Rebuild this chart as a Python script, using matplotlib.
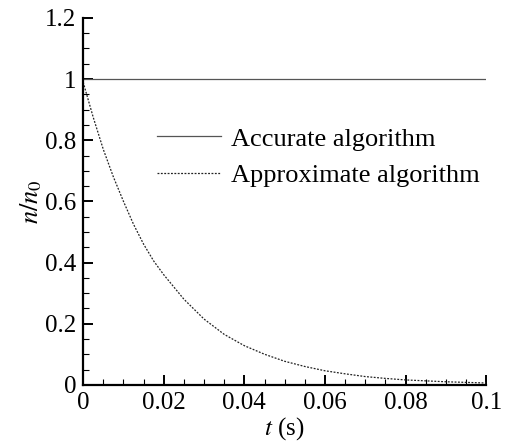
import numpy as np
import matplotlib.pyplot as plt
from matplotlib.ticker import MultipleLocator, FuncFormatter

# values
t = [0.0, 0.0025, 0.005, 0.0075, 0.01, 0.0125, 0.015, 0.0175, 0.02, 0.025,
     0.03, 0.035, 0.04, 0.045, 0.05, 0.055, 0.06, 0.065, 0.07, 0.075, 0.08,
     0.085, 0.09, 0.095, 0.1]
approx = [0.99, 0.875, 0.77, 0.68, 0.60, 0.525, 0.46, 0.405, 0.36, 0.28,
          0.215, 0.165, 0.128, 0.10, 0.077, 0.06, 0.046, 0.036, 0.027, 0.021,
          0.016, 0.013, 0.010, 0.008, 0.006]
accurate = [1.0] * len(t)

plt.rcParams['font.family'] = ['Liberation Serif', 'DejaVu Serif']
plt.rcParams['mathtext.fontset'] = 'stix'

fig = plt.figure(figsize=(5.07, 4.48), dpi=100)
ax = fig.add_axes([0.164, 0.141, 0.795, 0.819])

ax.plot(t, accurate, color='#555555', lw=0.9, label='Accurate algorithm')
ax.plot(t, approx, color='#222222', lw=0.9, linestyle=(0, (1.5, 1.2)),
        label='Approximate algorithm')

ax.set_xlim(0, 0.1)
ax.set_ylim(0, 1.2)
ax.xaxis.set_major_locator(MultipleLocator(0.02))
ax.xaxis.set_minor_locator(MultipleLocator(0.005))
ax.yaxis.set_major_locator(MultipleLocator(0.2))
ax.yaxis.set_minor_locator(MultipleLocator(0.05))

fmt = FuncFormatter(lambda v, p: ('%g' % round(v, 4)))
ax.xaxis.set_major_formatter(fmt)
ax.yaxis.set_major_formatter(fmt)

for s in ['top', 'right']:
    ax.spines[s].set_visible(False)
for s in ['left', 'bottom']:
    ax.spines[s].set_linewidth(1.6)

ax.tick_params(which='major', direction='in', length=7, width=1.4,
               labelsize=18, pad=5)
ax.tick_params(which='minor', direction='in', length=4, width=0.8)

ax.set_xlabel('$t$ (s)', fontsize=18, labelpad=1)
ax.set_ylabel('$n/n_0$', fontsize=19, labelpad=1)

ax.legend(loc='upper left', bbox_to_anchor=(0.31, 0.716),
          bbox_transform=fig.transFigure, frameon=False, fontsize=19,
          handlelength=2.4, handletextpad=0.4, labelspacing=0.48,
          borderpad=0, borderaxespad=0)

fig.savefig('out.png', dpi=100)
